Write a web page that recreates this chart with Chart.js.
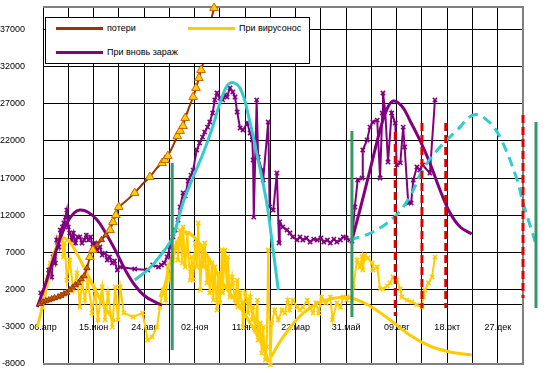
<!DOCTYPE html>
<html>
<head>
<meta charset="utf-8">
<script src="https://cdn.jsdelivr.net/npm/chart.js@4.4.0/dist/chart.umd.min.js"></script>
<style>
  body { margin: 0; background: #fff; }
  #wrap { position: relative; width: 546px; height: 373px; }
  #legend { position: absolute; left: 45px; top: 17px; width: 263px; height: 45px;
            border: 1px solid #000; background: #fff; font: 9px Arial, "Liberation Sans", sans-serif; color: #000; }
  .item { position: absolute; display: flex; align-items: center; height: 10px; line-height: 10px; white-space: nowrap; }
  .swatch { width: 47px; height: 3px; margin-right: 4px; }
</style>
</head>
<body>
<div id="wrap">
  <canvas id="chart" width="546" height="373"></canvas>
  <div id="legend">
    <div class="item" style="left:10px;top:5px"><span class="swatch" style="background:#993300"></span>потери</div>
    <div class="item" style="left:142px;top:5px"><span class="swatch" style="background:#FFCC00"></span>При вирусонос</div>
    <div class="item" style="left:10px;top:29px"><span class="swatch" style="background:#800080"></span>При вновь зараж</div>
  </div>
</div>
<script>
// x = days since 06.04.2020, grid every 35 days, label every 70
const dateLabels = ["06.апр", "15.июн", "24.авг", "02.ноя", "11.янв", "22.мар", "31.май", "09.авг", "18.окт", "27.дек"];
const yTicks = [-8000, -3000, 2000, 7000, 12000, 17000, 22000, 27000, 32000, 37000];

// потери
const lossDays = [-8, -4, 0, 4, 8, 12, 16, 21, 25, 29, 33, 37, 41, 45, 49, 53, 57, 61, 65, 69,
  75, 81, 87, 93, 97, 101, 105, 116, 127, 138, 148, 158, 165, 169, 173, 180, 186, 190, 194, 197,
  202, 208, 212, 216, 219, 222, 226, 230, 233, 237];
const lossVals = [-340, 100, 330, 470, 600, 750, 880, 1010, 1200, 1400, 1600, 1950, 2300, 2620, 2890, 3430, 3830, 4900, 6390, 7330,
  8000, 8700, 9340, 10020, 11100, 12030, 13110, 14000, 15000, 16200, 17140, 18400, 19020, 19430, 19960, 21300, 22650, 23330, 24000, 25070,
  26400, 27900, 29110, 30450, 31530, 32470, 34800, 36800, 38300, 39870];

// triangle markers on the losses curve
const triDays = [65, 69, 93, 97, 101, 105, 127, 148, 165, 169, 173, 186, 190, 194, 197, 208, 212, 216, 219, 237];
const triVals = [6390, 7330, 10020, 11100, 12030, 13110, 15000, 17140, 19020, 19430, 19960, 22650, 23330, 24000, 25070, 27900, 29110, 30450, 31530, 39870];

// При вирусонос
const virusDays = [-8, -1, 5, 10, 17, 21, 26, 28, 30, 33, 37, 42, 47, 51, 54, 58, 62, 68, 72, 76,
  82, 86, 90, 96, 100, 104, 107, 112, 125, 138, 145, 151, 158, 162, 166, 170, 173, 176, 180, 186,
  187, 190, 193, 194, 197, 200, 201, 204, 206, 208, 211, 213, 215, 218, 220, 222, 224, 227, 229, 231,
  234, 236, 238, 241, 243, 245, 248, 249, 252, 255, 256, 259, 262, 263, 266, 269, 270, 273, 276, 277,
  280, 283, 284, 287, 290, 291, 294, 297, 298, 301, 303, 305, 308, 310, 312, 315, 317, 321, 326, 331,
  335, 339, 342, 346, 352, 356, 360, 366, 370, 374, 378, 382, 386, 392, 398, 401, 407, 412, 416, 421,
  425, 428, 430, 435, 439, 442, 443, 446, 450, 456, 457, 463, 467, 471, 477, 481, 485, 490, 495, 497,
  504, 511, 518, 525, 527, 529, 534, 539, 543];
const virusVals = [-3030, -340, 3290, 5580, 6390, 9080, 8670, 6390, 8270, 3290, 5980, 1950, 4230, -340, 3290, 600, 3290, -1140, 1950, -2080,
  2350, -2080, 1550, -3030, 2350, -2080, 2350, -1140, -1680, -1140, -4770, -4370, -3030, -340, 1950, 600, 5040, 3290, 5980, 8270,
  5980, 10020, 5580, 10420, 5040, 9610, 6920, 3290, 6390, 3290, 8270, 5040, 10960, 1950, 7330, 5040, 8270, 2890, 5980, 1550,
  5580, 600, 5040, -740, 4230, 200, 7330, 1550, 7330, 2350, 6390, 1010, 3700, 2890, 600, 3290, -340, 1550, 200, -3030,
  1550, 600, -1140, 1010, -2080, -340, -3430, 600, -4770, -2490, -6520, -3030, -7460, -5710, 7330, -8130, -2490, -740, -2080, -740,
  -1140, 600, -740, 600, -340, -740, -340, 600, -340, -1140, 200, -1140, 1010, 200, 1010, -2080, 200, -340, 1010, 600,
  1010, 600, 2350, 5980, 5040, 6390, 4640, 6650, 6250, 5580, 4640, 5040, 2100, 2100, 2500, 2890, 3700, 3290, 2100, 1010,
  600, 340, -60, -340, 1010, 1950, 2890, 3700, 6390];

// При вновь зараж
const infDays = [-8, -3, 3, 8, 12, 14, 17, 19, 22, 24, 27, 29, 31, 33, 35, 37, 40, 42, 45, 48,
  51, 54, 57, 60, 63, 66, 69, 72, 75, 79, 82, 86, 89, 92, 96, 99, 103, 107, 127, 145,
  152, 160, 164, 168, 172, 176, 180, 183, 187, 190, 194, 197, 201, 205, 208, 213, 217, 221, 224, 228,
  231, 235, 238, 241, 245, 249, 252, 255, 259, 263, 266, 269, 273, 277, 283, 287, 290, 291, 292, 296,
  298, 303, 305, 312, 314, 319, 324, 327, 328, 332, 338, 342, 346, 352, 356, 360, 365, 370, 375, 380,
  385, 389, 394, 398, 403, 407, 412, 416, 420, 425, 428, 432, 436, 442, 443, 449, 453, 457, 463, 467,
  470, 471, 474, 478, 483, 488, 490, 495, 499, 501, 506, 510, 513, 518, 522, 526, 536, 543];
const infVals = [-340, 1550, 2350, 4640, 3700, 6390, 5580, 8670, 7730, 10020, 10420, 10960, 11760, 12700, 10420, 9610, 8670, 9610, 8270, 9080,
  9080, 8270, 8670, 9340, 8670, 9080, 7730, 8270, 7330, 7730, 6650, 6920, 5980, 6390, 5580, 5850, 4640, 5040, 4770, 4640,
  5310, 5040, 5310, 5580, 6390, 7730, 9080, 10020, 11360, 13110, 15000, 14600, 16600, 17400, 18080, 20770, 21710, 22500, 23190, 23860,
  24540, 25750, 27500, 28440, 27760, 27500, 28170, 27900, 29110, 28570, 27900, 25880, 23730, 23460, 24400, 23060, 22120, 19430, 11760, 27500,
  19830, 18080, 16740, 24540, 13110, 12700, 17680, 8270, 11100, 10420, 10020, 9610, 9080, 8670, 9080, 8670, 8940, 8400, 8800, 8670,
  8940, 8400, 8670, 8270, 8800, 8400, 8670, 9080, 8940, 8670, 8530, 13110, 16740, 17010, 20770, 22120, 23860, 24540, 24800, 17010,
  25750, 28440, 26150, 19160, 25750, 24400, 18760, 19030, 23860, 21180, 13650, 13650, 16740, 18490, 18080, 18760, 17680, 27500];

// smooth fitted curves
const purpleFitADays = [-8, 3, 14, 24, 33, 43, 51, 62, 75, 86, 100, 114, 127, 141, 158, 165];
const purpleFitAVals = [-340, 2620, 5980, 8940, 10960, 12300, 12700, 12440, 11360, 9750, 7330, 4640, 2620, 1140, 200, -70];
const purpleFitBDays = [428, 439, 453, 467, 476, 485, 497, 508, 522, 536, 550, 564, 578, 594];
const purpleFitBVals = [8670, 12700, 18080, 23460, 26150, 27360, 26690, 24800, 22120, 19020, 15400, 12300, 10420, 9480];
const cyanFitDays = [127, 148, 162, 179, 194, 208, 222, 235, 248, 259, 273, 287, 296, 310, 317, 326];
const cyanFitVals = [3290, 4910, 6520, 8940, 13650, 17140, 20370, 23870, 27900, 29780, 29110, 24400, 20370, 13650, 8670, 1950];
const cyanDashDays = [425, 457, 488, 508, 526, 550, 574, 596, 615, 633, 657, 664, 682];
const cyanDashVals = [8670, 9750, 11900, 14450, 18080, 21180, 23460, 25480, 24800, 22520, 16740, 14050, 8400];
const yellowFitADays = [-8, 3, 12, 19, 28, 37, 48, 62, 76, 90, 100];
const yellowFitAVals = [-3030, 1280, 5710, 7870, 8940, 8400, 6650, 3970, 1280, -1000, -2350];
const yellowFitBDays = [162, 169, 176, 186, 197, 213, 231, 249, 269, 287, 305, 313];
const yellowFitBVals = [1000, 2620, 5710, 8400, 9750, 8670, 6000, 2890, 200, -2490, -5710, -7730];
const yellowFitCDays = [316, 328, 342, 356, 370, 384, 398, 418, 432, 453, 481, 508, 536, 564, 594];
const yellowFitCVals = [-7060, -5040, -3160, -1550, -470, 340, 740, 1010, 740, -200, -2080, -4100, -5580, -6390, -6790];

// vertical markers (listed right to left so none past the axis end is dropped)
const greenDays = [683, 428, 179];
const greenTop = [24540, 23330, 19030];
const greenBottom = [-470, -1680, -6120];
const redDays = [665, 558, 525, 488];
const redTop = [25480, 24400, 24400, 23200];
const redBottom = [870, -470, -470, -1550];

function pts(xs, ys) {
  return xs.map((x, i) => ({ x: x, y: ys[i] }));
}

function vlines(xs, tops, bottoms) {
  const out = [];
  xs.forEach((x, i) => {
    out.push({ x: x, y: tops[i] }, { x: x, y: bottoms[i] }, { x: x, y: null });
  });
  return out;
}

const base = { clip: false, pointRadius: 0, tension: 0, fill: false };

const frame = {
  id: 'frame',
  beforeDatasetsDraw(chart) {
    const { ctx, chartArea: a } = chart;
    ctx.save();
    ctx.strokeStyle = '#808080';
    ctx.lineWidth = 2;
    ctx.beginPath();
    ctx.moveTo(a.left, a.top);
    ctx.lineTo(a.right, a.top);
    ctx.lineTo(a.right, a.bottom);
    ctx.lineTo(a.left, a.bottom);
    ctx.stroke();
    ctx.restore();
  }
};

const gridDays = [];
for (let d = 0; d <= 665; d += 35) gridDays.push(d);

new Chart(document.getElementById('chart'), {
  type: 'line',
  data: {
    datasets: [
      { ...base, data: vlines(redDays, redTop, redBottom), borderColor: '#E00000', borderWidth: 3, borderDash: [8, 4] },
      { ...base, data: vlines(greenDays, greenTop, greenBottom), borderColor: '#339966', borderWidth: 3 },
      { ...base, data: pts(triDays, triVals), showLine: false, pointStyle: 'triangle', pointRadius: 5,
        pointBackgroundColor: '#FFCC00', pointBorderColor: '#CC6600', pointBorderWidth: 1 },
      { ...base, label: 'потери', data: pts(lossDays, lossVals), borderColor: '#993300', borderWidth: 2,
        pointStyle: 'triangle', pointRadius: ctx => (ctx.raw && ctx.raw.x < 90 ? 3.5 : 0),
        pointBackgroundColor: '#CC6600', pointBorderColor: '#993300', pointBorderWidth: 1 },
      { ...base, data: pts(cyanFitDays, cyanFitVals), borderColor: '#33CCCC', borderWidth: 3, tension: 0.4 },
      { ...base, data: pts(cyanDashDays, cyanDashVals), borderColor: '#33CCCC', borderWidth: 3, tension: 0.4, borderDash: [10, 6] },
      { ...base, data: pts(purpleFitADays, purpleFitAVals), borderColor: '#800080', borderWidth: 3, tension: 0.4 },
      { ...base, data: pts(purpleFitBDays, purpleFitBVals), borderColor: '#800080', borderWidth: 3, tension: 0.4 },
      { ...base, data: pts(yellowFitADays, yellowFitAVals), borderColor: '#FFCC00', borderWidth: 3, tension: 0.4 },
      { ...base, data: pts(yellowFitBDays, yellowFitBVals), borderColor: '#FFCC00', borderWidth: 3, tension: 0.4 },
      { ...base, data: pts(yellowFitCDays, yellowFitCVals), borderColor: '#FFCC00', borderWidth: 3, tension: 0.4 },
      { ...base, label: 'При вновь зараж', data: pts(infDays, infVals), borderColor: '#800080', borderWidth: 2,
        pointStyle: 'crossRot', pointRadius: 3, pointBorderColor: '#800080', pointBorderWidth: 1.5 },
      { ...base, label: 'При вирусонос', data: pts(virusDays, virusVals), borderColor: '#FFCC00', borderWidth: 2,
        pointStyle: 'crossRot', pointRadius: 3, pointBorderColor: '#FFCC00', pointBorderWidth: 1.5 }
    ]
  },
  options: {
    responsive: false,
    animation: false,
    devicePixelRatio: 1,
    layout: { padding: { left: 0, top: 7, right: 23, bottom: 9 } },
    plugins: { legend: { display: false }, tooltip: { enabled: false } },
    scales: {
      x: {
        type: 'linear', min: 0, max: 665, position: { y: 0 },
        afterBuildTicks: s => { s.ticks = gridDays.map(v => ({ value: v })); },
        grid: { color: c => (c.tick && c.tick.value === 665 ? 'rgba(0,0,0,0)' : '#000'), lineWidth: 1, drawTicks: false },
        border: { color: '#000', width: 1 },
        ticks: {
          autoSkip: false, maxRotation: 0, padding: 18, color: '#000',
          font: { family: 'Arial, "Liberation Sans"', size: 9 },
          callback: v => { const k = Math.round(v / 35); return k % 2 === 0 ? dateLabels[k / 2] : ''; }
        }
      },
      y: {
        min: -8000, max: 40000,
        afterBuildTicks: s => { s.ticks = yTicks.map(v => ({ value: v })); },
        afterFit: s => { s.width = 43; },
        grid: {
          color: c => (c.tick && (c.tick.value === -3000 || c.tick.value === -8000) ? 'rgba(0,0,0,0)' : '#000'),
          drawTicks: true, tickLength: 18, tickColor: 'rgba(0,0,0,0)'
        },
        border: { color: '#000', width: 1 },
        ticks: {
          padding: 0, color: '#000', font: { family: 'Arial, "Liberation Sans"', size: 9 },
          callback: v => String(v)
        }
      }
    }
  },
  plugins: [frame]
});
</script>
</body>
</html>
